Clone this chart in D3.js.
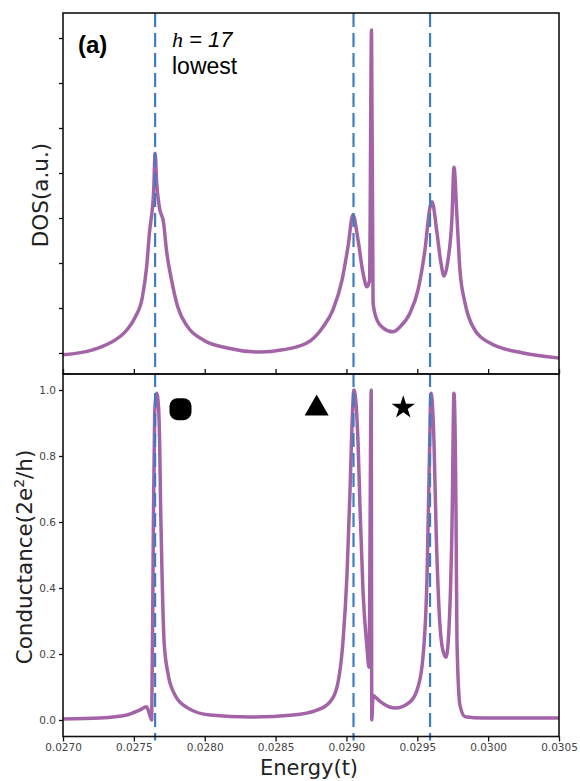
<!DOCTYPE html>
<html>
<head>
<meta charset="utf-8">
<script src="https://cdn.jsdelivr.net/npm/d3@7"></script>
<style>
  body { margin: 0; background: #fff; }
  svg { display: block; }
  .tick text { font-family: "DejaVu Sans", sans-serif; }
</style>
</head>
<body>
<div id="chart"></div>
<script>

// energy axis (t units)
const energyTicks = [0.0270, 0.0275, 0.0280, 0.0285, 0.0290, 0.0295, 0.0300, 0.0305];
const condTicks = [0.0, 0.2, 0.4, 0.6, 0.8, 1.0];
const dosTicks = [0, 1, 2, 3, 4, 5, 6, 7];

// eigen-levels (dashed lines)
const levels = [0.02765, 0.02905, 0.02959];

// DOS curve
const dosE = [0.02700, 0.02721, 0.02733, 0.02745, 0.02751, 0.02756, 0.02759, 0.02761, 0.02764, 0.02765,
  0.027661, 0.02768, 0.02771, 0.02773, 0.02777, 0.02781, 0.02788, 0.02799, 0.02816, 0.02839,
  0.02855, 0.02872, 0.028835, 0.028905, 0.028969, 0.029011, 0.029046, 0.029082, 0.029117, 0.029145,
  0.029163, 0.029177, 0.029188, 0.029216, 0.029258, 0.029329, 0.029378, 0.029449, 0.029505, 0.029554,
  0.029590, 0.029604, 0.029639, 0.029667, 0.029689, 0.029717, 0.029745, 0.029759, 0.029780, 0.029801,
  0.029837, 0.029893, 0.030013, 0.030246, 0.030500];
const dosV = [-0.04, 0.07, 0.22, 0.51, 0.80, 1.24, 1.91, 2.67, 3.62, 4.44,
  3.78, 3.24, 2.89, 2.29, 1.56, 1.02, 0.58, 0.29, 0.11, 0.02,
  0.07, 0.22, 0.58, 0.96, 1.62, 2.36, 3.07, 2.51, 1.78, 1.47,
  1.60, 7.18, 1.11, 0.73, 0.56, 0.47, 0.58, 0.89, 1.40, 2.29,
  3.24, 3.36, 2.67, 2.00, 1.71, 2.07, 3.02, 4.13, 3.02, 1.84,
  1.11, 0.58, 0.22, 0.00, -0.11];

// conductance curve (2e^2/h)
const condE = [0.02700, 0.02726, 0.02745, 0.02754, 0.02759, 0.027612, 0.027626, 0.027637, 0.027647, 0.027661,
  0.027674, 0.027682, 0.027689, 0.027699, 0.027713, 0.027741, 0.027790, 0.027882, 0.028037, 0.028320,
  0.028623, 0.028792, 0.028884, 0.028941, 0.028976, 0.029004, 0.029025, 0.029039, 0.029053, 0.029082,
  0.029096, 0.029117, 0.029145, 0.029159, 0.029175, 0.029179, 0.029188, 0.029202, 0.029258, 0.029343,
  0.029449, 0.029505, 0.029540, 0.029569, 0.029583, 0.029597, 0.029618, 0.029632, 0.029653, 0.029681,
  0.029703, 0.029724, 0.029745, 0.029759, 0.029773, 0.029780, 0.029801, 0.029837, 0.029964, 0.030500];
const condV = [0.003, 0.006, 0.015, 0.03, 0.04, 0.015, 0.0, 0.55, 0.93, 0.99,
  0.95, 0.84, 0.64, 0.44, 0.24, 0.14, 0.076, 0.036, 0.015, 0.009,
  0.015, 0.03, 0.055, 0.115, 0.24, 0.44, 0.69, 0.89, 1.0, 0.84,
  0.64, 0.39, 0.22, 0.16, 1.0, 0.0, 0.075, 0.07, 0.05, 0.036,
  0.055, 0.10, 0.19, 0.44, 0.74, 0.99, 0.84, 0.59, 0.34, 0.21,
  0.19, 0.28, 0.59, 0.99, 0.64, 0.24, 0.045, 0.01, 0.006, 0.006];

// markers above the conductance peaks
const markerE = [0.027829, 0.028790, 0.029401];
const markerV = [0.942, 0.944, 0.947];
const markerType = ["round", "triangle", "star"];

const width = 580, height = 781;
const left = 63, right = 559;
const topY0 = 13, topY1 = 374, botY0 = 374, botY1 = 736.5;

const lineColor = "#a264a6";
const dashColor = "#3d7dc1";

const svg = d3.select("#chart").append("svg")
  .attr("width", width)
  .attr("height", height);

const x = d3.scaleLinear().domain([0.0270, 0.0305]).range([left, right]);
const yDos = d3.scaleLinear().domain([-0.467, 7.556]).range([topY1, topY0]);
const yCond = d3.scaleLinear().domain([-0.05, 1.05]).range([botY1, botY0 - 0.5]);

const dosData = dosE.map((e, i) => ({ e: e, v: dosV[i] }));
const condData = condE.map((e, i) => ({ e: e, v: condV[i] }));

svg.append("clipPath").attr("id", "clipTop")
  .append("rect").attr("x", left).attr("y", topY0).attr("width", right - left).attr("height", topY1 - topY0);
svg.append("clipPath").attr("id", "clipBot")
  .append("rect").attr("x", left).attr("y", botY0).attr("width", right - left).attr("height", botY1 - botY0);

// curves
svg.append("path")
  .datum(dosData)
  .attr("clip-path", "url(#clipTop)")
  .attr("fill", "none")
  .attr("stroke", lineColor)
  .attr("stroke-width", 3.5)
  .attr("stroke-linejoin", "round")
  .attr("d", d3.line().x(d => x(d.e)).y(d => yDos(d.v)).curve(d3.curveMonotoneX));

svg.append("path")
  .datum(condData)
  .attr("clip-path", "url(#clipBot)")
  .attr("fill", "none")
  .attr("stroke", lineColor)
  .attr("stroke-width", 3.5)
  .attr("stroke-linejoin", "round")
  .attr("d", d3.line().x(d => x(d.e)).y(d => yCond(d.v)).curve(d3.curveMonotoneX));

// dashed level lines through both panels
svg.selectAll(".level")
  .data(levels)
  .enter()
  .append("line")
  .attr("class", "level")
  .attr("x1", d => x(d)).attr("x2", d => x(d))
  .attr("y1", topY0).attr("y2", botY1 + 4)
  .attr("stroke", dashColor)
  .attr("stroke-width", 2.2)
  .attr("stroke-dasharray", "14,6");

// axes
const axisFont = "DejaVu Sans, sans-serif";

// top panel: left ticks, no labels
svg.append("g")
  .attr("transform", `translate(${left},0)`)
  .call(d3.axisLeft(yDos).tickValues(dosTicks).tickSize(4).tickFormat(""))
  .call(g => g.select(".domain").remove());

// top panel: bottom ticks pointing in
svg.append("g")
  .attr("transform", `translate(0,${topY1})`)
  .call(d3.axisTop(x).tickValues(energyTicks).tickSize(5).tickFormat(""))
  .call(g => g.select(".domain").remove());

// bottom panel axes
svg.append("g")
  .attr("transform", `translate(${left},0)`)
  .call(d3.axisLeft(yCond).tickValues(condTicks).tickSize(4).tickPadding(3).tickFormat(d3.format(".1f")))
  .call(g => g.select(".domain").remove())
  .call(g => g.selectAll("text").attr("font-size", 10.5).attr("fill", "#444"));

svg.append("g")
  .attr("transform", `translate(0,${botY1})`)
  .call(d3.axisBottom(x).tickValues(energyTicks).tickSize(5).tickPadding(2).tickFormat(d3.format(".4f")))
  .call(g => g.select(".domain").remove())
  .call(g => g.selectAll("text").attr("font-size", 10.5).attr("fill", "#444"));

svg.selectAll(".tick line").attr("stroke", "#111").attr("stroke-width", 1.3);

// frames
svg.append("rect")
  .attr("x", left).attr("y", topY0).attr("width", right - left).attr("height", topY1 - topY0)
  .attr("fill", "none").attr("stroke", "#111").attr("stroke-width", 1.6);
svg.append("rect")
  .attr("x", left).attr("y", botY0).attr("width", right - left).attr("height", botY1 - botY0)
  .attr("fill", "none").attr("stroke", "#111").attr("stroke-width", 1.6);

// markers
const markers = svg.append("g");
markerE.forEach((e, i) => {
  const cx = x(e), cy = yCond(markerV[i]);
  if (markerType[i] == "round") {
    markers.append("rect")
      .attr("x", cx - 11).attr("y", cy - 11)
      .attr("width", 22).attr("height", 22)
      .attr("rx", 8)
      .attr("fill", "#000");
  } else {
    const sym = markerType[i] == "triangle" ? d3.symbolTriangle : d3.symbolStar;
    const size = markerType[i] == "triangle" ? 250 : 170;
    markers.append("path")
      .attr("transform", `translate(${cx},${cy})`)
      .attr("d", d3.symbol().type(sym).size(size)())
      .attr("fill", "#000");
  }
});

// axis titles
svg.append("text")
  .attr("x", (left + right) / 2 - 2).attr("y", 775)
  .attr("text-anchor", "middle")
  .attr("font-family", axisFont)
  .attr("font-size", 21)
  .attr("fill", "#222")
  .text("Energy(t)");

svg.append("text")
  .attr("transform", `translate(48,195)rotate(-90)`)
  .attr("text-anchor", "middle")
  .attr("font-family", axisFont)
  .attr("font-size", 21.5)
  .attr("fill", "#222")
  .text("DOS(a.u.)");

const condLabel = svg.append("text")
  .attr("transform", `translate(32,557)rotate(-90)`)
  .attr("text-anchor", "middle")
  .attr("font-family", axisFont)
  .attr("font-size", 21.5)
  .attr("fill", "#222");
condLabel.append("tspan").text("Conductance(2e");
condLabel.append("tspan").attr("font-size", 14).attr("dy", -8).text("2");
condLabel.append("tspan").attr("dy", 8).text("/h)");

// panel annotations
svg.append("text")
  .attr("x", 78).attr("y", 53)
  .attr("font-family", "Liberation Sans, Arial, sans-serif")
  .attr("font-weight", "bold")
  .attr("font-size", 24)
  .attr("fill", "#000")
  .text("(a)");

const hText = svg.append("text")
  .attr("x", 172).attr("y", 47)
  .attr("font-family", "Liberation Sans, Arial, sans-serif")
  .attr("font-size", 22)
  .attr("font-style", "italic")
  .attr("fill", "#000");
hText.append("tspan").attr("font-family", "Liberation Serif, serif").text("h");
hText.append("tspan").text(" = 17");

svg.append("text")
  .attr("x", 172).attr("y", 74)
  .attr("font-family", "Liberation Sans, Arial, sans-serif")
  .attr("font-size", 23)
  .attr("fill", "#000")
  .text("lowest");

</script>
</body>
</html>
